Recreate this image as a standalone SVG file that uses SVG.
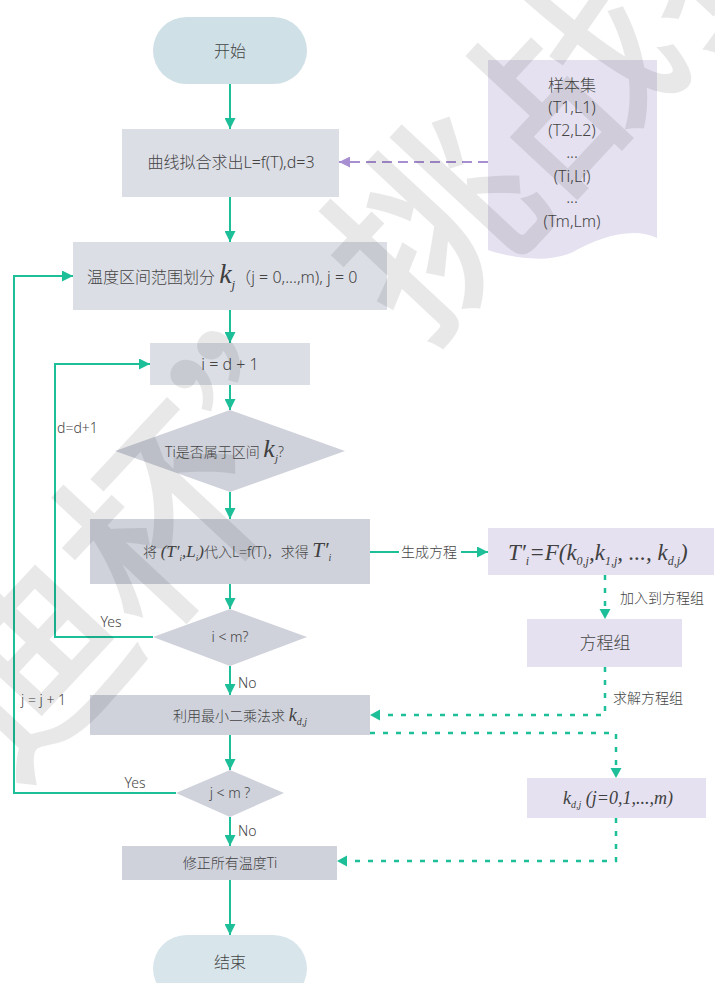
<svg xmlns="http://www.w3.org/2000/svg" width="715" height="983" viewBox="0 0 715 983">
  <defs>
    <marker id="ah" viewBox="0 0 10 10" refX="10" refY="5" markerWidth="11" markerHeight="11" markerUnits="userSpaceOnUse" orient="auto">
      <path d="M0,0 L10,5 L0,10 z" fill="#1dbf98"/>
    </marker>
    <marker id="ahp" viewBox="0 0 10 10" refX="10" refY="5" markerWidth="11" markerHeight="11" markerUnits="userSpaceOnUse" orient="auto">
      <path d="M0,0 L10,5 L0,10 z" fill="#a88fd2"/>
    </marker>
  </defs>
  <style>
    .t { font-family: "Noto Sans", "Noto Sans CJK SC", sans-serif; font-weight: 300; fill: #444444; }
    .m { font-family: "Liberation Serif", "Noto Sans CJK SC", serif; font-style: italic; font-weight: normal; fill: #404040; }
    .mid { text-anchor: middle; }
    .flow { fill: none; stroke: #1dbf98; stroke-width: 2; marker-end: url(#ah); }
    .dash { fill: none; stroke: #1dbf98; stroke-width: 2.5; stroke-dasharray: 5 8; }
    .dashp { fill: none; stroke: #a88fd2; stroke-width: 2; stroke-dasharray: 10 6; marker-end: url(#ahp); }
    .proc { fill: #dcdee6; }
    .proc2 { fill: #cfd2db; }
    .lav { fill: #e5e1f0; }
    .wm { font-family: "Noto Sans CJK SC", sans-serif; font-weight: 500; fill: #000000; fill-opacity: 0.09; }
  </style>

  <rect width="715" height="983" fill="#ffffff"/>

  <!-- connectors -->
  <g id="connectors">
    <line class="flow" x1="230" y1="84" x2="230" y2="129"/>
    <line class="flow" x1="230" y1="197" x2="230" y2="242"/>
    <line class="flow" x1="230" y1="310" x2="230" y2="343"/>
    <line class="flow" x1="230" y1="385" x2="230" y2="410"/>
    <line class="flow" x1="230" y1="492" x2="230" y2="519"/>
    <line class="flow" x1="230" y1="584" x2="230" y2="609"/>
    <line class="flow" x1="230" y1="666" x2="230" y2="695"/>
    <line class="flow" x1="230" y1="735" x2="230" y2="770"/>
    <line class="flow" x1="230" y1="817" x2="230" y2="846"/>
    <line class="flow" x1="230" y1="880" x2="230" y2="935"/>
    <!-- i < m loop back -->
    <polyline class="flow" points="153,637 55,637 55,364 150,364"/>
    <!-- j < m loop back -->
    <polyline class="flow" points="176,793 14,793 14,276 73,276"/>
    <!-- equation generation -->
    <line class="flow" x1="370" y1="552" x2="488" y2="552"/>
    <rect x="399" y="542" width="62" height="20" fill="#ffffff"/>
    <!-- sample set to curve fitting -->
    <line class="dashp" x1="488" y1="162" x2="339" y2="162"/>
    <!-- dotted data paths -->
    <polyline class="dash" points="605,575 605,612"/>
    <polyline class="dash" points="605,667 605,715 380,715"/>
    <polyline class="dash" points="370,733 616,733 616,770"/>
    <polyline class="dash" points="616,818 616,861 347,861"/>
    <path d="M605,619 L599.5,609 L610.5,609 z" fill="#1dbf98"/>
    <path d="M370,715 L380,709.5 L380,720.5 z" fill="#1dbf98"/>
    <path d="M616,778 L610.5,768 L621.5,768 z" fill="#1dbf98"/>
    <path d="M337,861 L347,855.5 L347,866.5 z" fill="#1dbf98"/>
  </g>

  <!-- connector labels -->
  <g id="labels" class="t" font-size="14">
    <text x="401" y="557">生成方程</text>
    <text x="620" y="603">加入到方程组</text>
    <text x="613" y="703">求解方程组</text>
    <text x="111" y="627" class="t mid">Yes</text>
    <text x="135" y="788" class="t mid">Yes</text>
    <text x="238" y="688">No</text>
    <text x="238" y="836">No</text>
    <text x="57" y="433">d=d+1</text>
    <text x="21" y="705">j = j + 1</text>
  </g>

  <g id="start">
    <rect x="153" y="17" width="154" height="67" rx="33.5" fill="#cfe0e6"/>
    <text class="t mid" x="230" y="57" font-size="16">开始</text>
  </g>

  <g id="fit">
    <rect class="proc" x="122" y="129" width="217" height="68"/>
    <text class="t mid" x="231" y="168" font-size="16">曲线拟合求出L=f(T),d=3</text>
  </g>

  <g id="samples">
    <path class="lav" d="M488,60 H657 V238 C632,226 598,238 573,252 C550,263 515,259 488,250 Z"/>
    <g class="t mid" font-size="16">
      <text x="572" y="91">样本集</text>
      <text x="572" y="113">(T1,L1)</text>
      <text x="572" y="136">(T2,L2)</text>
      <text x="572" y="158">...</text>
      <text x="572" y="182">(Ti,Li)</text>
      <text x="572" y="203">...</text>
      <text x="572" y="227">(Tm,Lm)</text>
    </g>
  </g>

  <g id="partition">
    <rect class="proc" x="73" y="242" width="314" height="68"/>
    <text class="t" x="87" y="283" font-size="16">温度区间范围划分 <tspan class="m" font-size="28" font-weight="bold">k</tspan><tspan class="m" font-size="13" dy="6">j</tspan><tspan dy="-6">（j = 0,...,m), j = 0</tspan></text>
  </g>

  <g id="init-i">
    <rect class="proc" x="150" y="343" width="160" height="42"/>
    <text class="t mid" x="230" y="370" font-size="16">i = d + 1</text>
  </g>

  <g id="in-range">
    <polygon class="proc2" points="230,410 345,451 230,492 115,451"/>
    <text class="t" x="165" y="457" font-size="14">Ti是否属于区间 <tspan class="m" font-size="26" font-weight="bold">k</tspan><tspan class="m" font-size="11" dy="5">j</tspan><tspan dy="-5">?</tspan></text>
  </g>

  <g id="substitute">
    <rect class="proc2" x="90" y="519" width="280" height="65"/>
    <text class="t" x="143" y="557" font-size="14">将 <tspan class="m" font-size="17">(T′</tspan><tspan class="m" font-size="9" dy="4">i</tspan><tspan class="m" font-size="17" dy="-4">,L</tspan><tspan class="m" font-size="9" dy="4">i</tspan><tspan class="m" font-size="17" dy="-4">)</tspan>代入L=f(T)，求得 <tspan class="m" font-size="21">T′</tspan><tspan class="m" font-size="10" dy="4">i</tspan></text>
  </g>

  <g id="equation">
    <rect class="lav" x="488" y="528" width="226" height="47"/>
    <text class="m" x="508" y="560" font-size="23">T′<tspan font-size="12" dy="5">i</tspan><tspan dy="-5">=F(k</tspan><tspan font-size="12" dy="5">0,j</tspan><tspan dy="-5">,k</tspan><tspan font-size="12" dy="5">1,j</tspan><tspan dy="-5">, ..., k</tspan><tspan font-size="12" dy="5">d,j</tspan><tspan dy="-5">)</tspan></text>
  </g>

  <g id="check-i">
    <polygon class="proc2" points="230,609 307,637 230,666 153,637"/>
    <text class="t mid" x="230" y="642" font-size="14">i &lt; m?</text>
  </g>

  <g id="equation-set">
    <rect class="lav" x="527" y="619" width="155" height="48"/>
    <text class="t mid" x="605" y="649" font-size="17">方程组</text>
  </g>

  <g id="least-squares">
    <rect class="proc2" x="90" y="695" width="280" height="40"/>
    <text class="t" x="173" y="721" font-size="14">利用最小二乘法求 <tspan class="m" font-size="18">k</tspan><tspan class="m" font-size="10" dy="4">d,j</tspan></text>
  </g>

  <g id="check-j">
    <polygon class="proc2" points="230,770 284,793 230,817 176,793"/>
    <text class="t mid" x="230" y="798" font-size="14">j &lt; m ?</text>
  </g>

  <g id="coefficients">
    <rect class="lav" x="527" y="778" width="179" height="40"/>
    <text class="m" x="563" y="804" font-size="18">k<tspan font-size="10" dy="4">d,j</tspan><tspan dy="-4"> (j=0,1,...,m)</tspan></text>
  </g>

  <g id="correct">
    <rect class="proc2" x="122" y="846" width="215" height="34"/>
    <text class="t mid" x="230" y="868" font-size="14">修正所有温度Ti</text>
  </g>

  <g id="end">
    <rect x="153" y="935" width="154" height="67" rx="33.5" fill="#d8e6ec"/>
    <text class="t mid" x="230" y="968" font-size="16">结束</text>
  </g>

  <!-- translucent diagonal watermark over the page -->
  <text class="wm" font-size="200" transform="translate(-125,934) rotate(-47)">泰迪杯”挑战赛</text>
</svg>
